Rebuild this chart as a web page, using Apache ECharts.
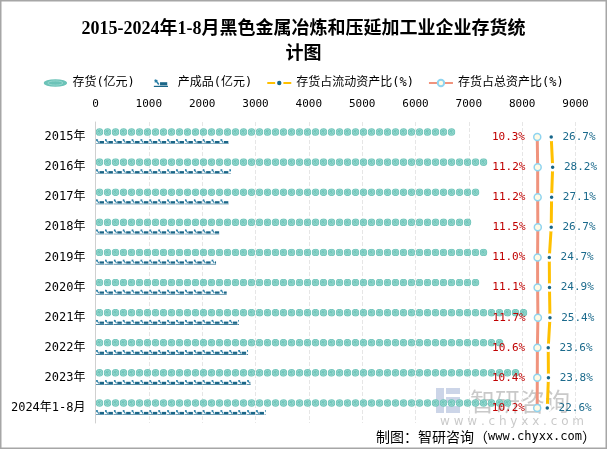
<!DOCTYPE html>
<html>
<head>
<meta charset="utf-8">
<script src="https://cdn.jsdelivr.net/npm/echarts@6/dist/echarts.min.js"></script>
<style>
html,body{margin:0;padding:0;background:#fff;}
#c{width:607px;height:449px;}
</style>
</head>
<body>
<div id="c"></div>
<script>
const categories = ['2015年','2016年','2017年','2018年','2019年','2020年','2021年','2022年','2023年','2024年1-8月'];
const inventory = [6710, 7210, 7120, 7020, 7270, 7200, 8080, 7590, 7820, 7730];
const finishedGoods = [2500, 2540, 2500, 2320, 2260, 2460, 2690, 2860, 2910, 3190];
const ratioCurrentAssets = [26.7, 28.2, 27.1, 26.7, 24.7, 24.9, 25.4, 23.6, 23.8, 22.6];
const ratioTotalAssets = [10.3, 11.2, 11.2, 11.5, 11.0, 11.1, 11.7, 10.6, 10.4, 10.2];
const seriesNames = ['存货(亿元)', '产成品(亿元)', '存货占流动资产比(%)', '存货占总资产比(%)'];

const coinSvg = '<svg xmlns="http://www.w3.org/2000/svg" width="16" height="16" viewBox="0 0 16 16">' +
  '<circle cx="8" cy="8" r="7.6" fill="#6cc3b8"/>' +
  '<circle cx="8" cy="8" r="5.2" fill="none" stroke="#a9e1d9" stroke-width="1.4"/>' +
  '<path d="M8 5.6 A2.4 2.4 0 1 1 5.6 8" fill="none" stroke="#a9e1d9" stroke-width="1.3"/></svg>';
const coinLegendSvg = '<svg xmlns="http://www.w3.org/2000/svg" width="48" height="16" viewBox="0 0 48 16">' +
  '<ellipse cx="24" cy="8" rx="23.5" ry="7.6" fill="#6cc3b8"/>' +
  '<ellipse cx="24" cy="8" rx="15" ry="4.2" fill="none" stroke="#a9e1d9" stroke-width="1.4"/></svg>';
const goodsSvg = '<svg xmlns="http://www.w3.org/2000/svg" width="18" height="10" viewBox="0 0 18 10">' +
  '<path d="M2 1 L6.5 7" stroke="#2a7fa6" stroke-width="2" fill="none"/>' +
  '<path d="M1 1 L5.5 1.2 L1.6 5 Z" fill="#2a7fa6"/>' +
  '<rect x="8" y="4" width="9" height="4" fill="#1b6688"/>' +
  '<rect x="0" y="8.5" width="18" height="1.5" fill="#1b6688"/></svg>';
const coinImg = 'image://data:image/svg+xml;charset=utf-8,' + encodeURIComponent(coinSvg);
const coinLegendImg = 'image://data:image/svg+xml;charset=utf-8,' + encodeURIComponent(coinLegendSvg);
const goodsImg = 'image://data:image/svg+xml;charset=utf-8,' + encodeURIComponent(goodsSvg);

const monoCjk = '"DejaVu Sans Mono", "Noto Sans CJK SC", monospace';
const pct = p => Number(p.value).toFixed(1) + '%';

const chart = echarts.init(document.getElementById('c'), null, {renderer: 'canvas'});
chart.setOption({
  backgroundColor: '#fff',
  animation: false,
  title: {
    text: '2015-2024年1-8月黑色金属冶炼和压延加工业企业存货统\n计图',
    left: 'center',
    top: 12,
    textStyle: {fontSize: 18, fontWeight: 'bold', color: '#000', lineHeight: 25,
      fontFamily: '"Liberation Serif", "Noto Sans CJK SC", serif'}
  },
  legend: {
    top: 72,
    left: 'center',
    itemWidth: 24,
    itemHeight: 8,
    itemGap: 14,
    textStyle: {fontSize: 12, color: '#000', fontFamily: monoCjk},
    data: [
      {name: seriesNames[0], icon: coinLegendImg},
      {name: seriesNames[1]},
      {name: seriesNames[2]},
      {name: seriesNames[3]}
    ]
  },
  grid: {left: 95.5, right: 31.5, top: 122, bottom: 26},
  xAxis: [
    {type: 'value', position: 'top', min: 0, max: 9000, interval: 1000,
      axisLine: {show: false}, axisTick: {show: false},
      axisLabel: {fontSize: 11, color: '#000', margin: 12, fontFamily: monoCjk,
        formatter: v => String(v)},
      splitLine: {lineStyle: {color: '#e6e6e6', type: 'dashed'}}},
    {type: 'value', min: -910, max: 90, show: false},
    {type: 'value', min: -448, max: 52, show: false}
  ],
  yAxis: {
    type: 'category', data: categories, inverse: true,
    axisLine: {lineStyle: {color: '#d0d0d0'}}, axisTick: {show: false},
    axisLabel: {fontSize: 12, color: '#000', margin: 10, fontFamily: monoCjk}
  },
  series: [
    {name: seriesNames[0], type: 'pictorialBar', data: inventory,
      symbol: coinImg, symbolRepeat: true, symbolSize: [8, 8], symbolMargin: 0,
      symbolPosition: 'start', symbolOffset: [0, -5], barWidth: 10, barGap: '-100%',
      itemStyle: {color: '#6cc3b8'}},
    {name: seriesNames[1], type: 'pictorialBar', data: finishedGoods,
      symbol: goodsImg, symbolRepeat: true, symbolClip: true, symbolSize: [9, 5.5], symbolMargin: 0,
      symbolPosition: 'start', symbolOffset: [0, 4.5], barWidth: 10, barGap: '-100%',
      itemStyle: {color: '#1b6688'}},
    {name: seriesNames[2], type: 'line', xAxisIndex: 2, data: ratioCurrentAssets,
      symbol: 'circle', symbolSize: 6, z: 4,
      itemStyle: {color: '#17668a', borderColor: '#fff', borderWidth: 2.5},
      lineStyle: {color: '#ffc000', width: 3},
      label: {show: true, position: 'right', distance: 7, formatter: pct,
        color: '#1b6a8c', fontSize: 11, fontFamily: monoCjk}},
    {name: seriesNames[3], type: 'line', xAxisIndex: 1, data: ratioTotalAssets,
      symbol: 'circle', symbolSize: 7, z: 4,
      itemStyle: {color: '#fffbe6', borderColor: '#8fd4f0', borderWidth: 1.5},
      lineStyle: {color: '#f0937d', width: 3},
      label: {show: true, position: 'left', distance: 8, formatter: pct,
        color: '#c00000', fontSize: 11, fontFamily: monoCjk}}
  ],
  graphic: [
    {type: 'rect', silent: true, z: 100,
      shape: {x: 0.75, y: 0.75, width: 605.5, height: 447.5},
      style: {fill: 'none', stroke: '#a6a6a6', lineWidth: 1.5}},
    {type: 'group', silent: true, z: 50, children: [
      {type: 'rect', shape: {x: 436, y: 388, width: 8, height: 25}, style: {fill: 'rgba(110,135,190,0.35)'}},
      {type: 'rect', shape: {x: 446, y: 388, width: 14, height: 6}, style: {fill: 'rgba(110,135,190,0.35)'}},
      {type: 'rect', shape: {x: 446, y: 397, width: 14, height: 6}, style: {fill: 'rgba(110,135,190,0.35)'}},
      {type: 'rect', shape: {x: 446, y: 406, width: 14, height: 7}, style: {fill: 'rgba(110,135,190,0.35)'}},
      {type: 'text', style: {text: '智研咨询', x: 470, y: 401, verticalAlign: 'middle',
        font: '25px "Noto Sans CJK SC"', fill: 'rgba(120,120,120,0.4)'}},
      {type: 'text', style: {text: 'w w w . c h y x x . c o m', x: 512, y: 422, align: 'center', verticalAlign: 'middle',
        font: '12px "DejaVu Sans"', fill: 'rgba(120,120,120,0.4)'}}
    ]},
    {type: 'text', silent: true, z: 60,
      style: {text: '{a|制图：智研咨询（}{b|www.chyxx.com}{a|）}', x: 596, y: 437, align: 'right', verticalAlign: 'middle',
        rich: {
          a: {fontSize: 14, fontFamily: 'Noto Sans CJK SC', fill: '#000'},
          b: {fontSize: 12, fontFamily: 'DejaVu Sans Mono', fill: '#000'}
        }}}
  ]
});
</script>
</body>
</html>
